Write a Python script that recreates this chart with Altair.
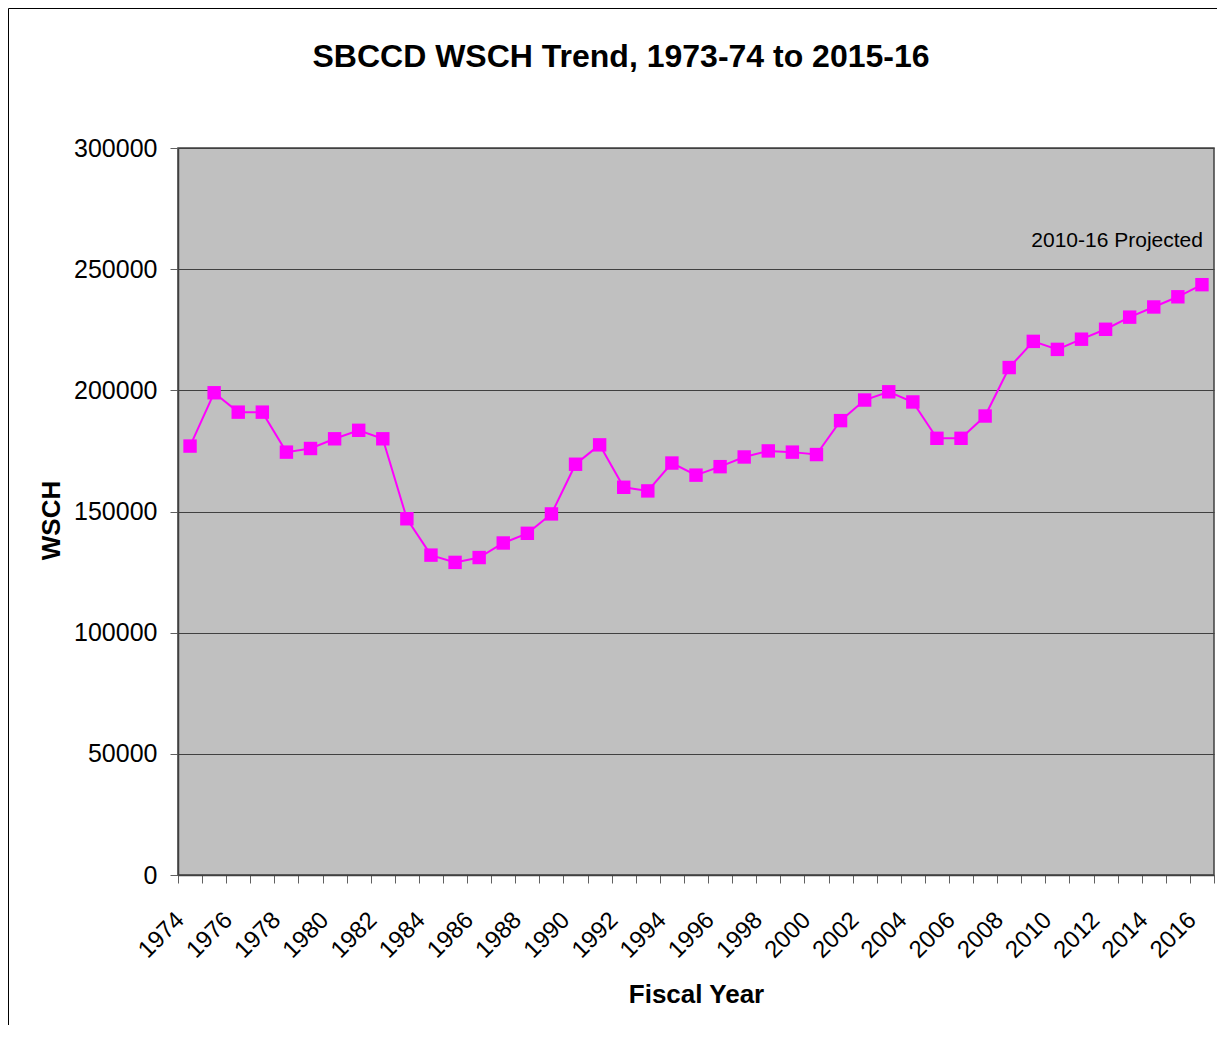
import altair as alt
import pandas as pd

years = [1974, 1975, 1976, 1977, 1978, 1979, 1980, 1981, 1982, 1983,
         1984, 1985, 1986, 1987, 1988, 1989, 1990, 1991, 1992, 1993,
         1994, 1995, 1996, 1997, 1998, 1999, 2000, 2001, 2002, 2003,
         2004, 2005, 2006, 2007, 2008, 2009, 2010, 2011, 2012, 2013,
         2014, 2015, 2016]
wsch = [177000, 199000, 191000, 191000, 174500, 176000, 180000, 183500, 180000, 147000,
        132000, 129000, 131000, 137000, 141000, 149000, 169500, 177500, 160000, 158500,
        170000, 165000, 168500, 172500, 175000, 174500, 173500, 187500, 196000, 199400,
        195200, 180200, 180200, 189400, 209400, 220200, 216900, 221100, 225200, 230200,
        234400, 238600, 243600]
y_ticks = [0, 50000, 100000, 150000, 200000, 250000, 300000]
note_label = ["2010-16 Projected"]
note_year = [2016]
note_value = [259300]

df = pd.DataFrame({"year": years, "wsch": wsch})
note_df = pd.DataFrame({"year": note_year, "wsch": note_value, "label": note_label})
frame_df = pd.DataFrame({"k": [0]})

FONT = "Liberation Sans"
MAG = "#FF00FF"

x_enc = alt.X(
    "year:O",
    title="Fiscal Year",
    bandPosition=0.5,
    scale=alt.Scale(type="band", paddingInner=0, paddingOuter=0, domain=years),
    axis=alt.Axis(
        labelAngle=-45, labelAlign="right", labelBaseline="middle",
        labelPadding=33, labelOffset=-10, labelFontSize=24, labelFont=FONT,
        labelColor="black", labelOverlap=False,
        labelExpr="datum.value % 2 == 0 ? datum.label : ''",
        tickBand="extent", tickSize=8, tickColor="#606060", tickWidth=1,
        domainColor="#404040", domainWidth=1.5, grid=False,
        titleFont=FONT, titleFontSize=26, titleFontWeight="bold", titleColor="black",
        titleX=518, titleY=127, titleBaseline="alphabetic", titleAlign="center",
    ),
)
y_enc = alt.Y(
    "wsch:Q",
    title="WSCH",
    scale=alt.Scale(domain=[0, 300000], nice=False, zero=True),
    axis=alt.Axis(
        values=y_ticks, format="d",
        labelFontSize=25, labelFont=FONT, labelColor="black", labelPadding=13,
        tickSize=8, tickColor="#606060", tickWidth=1,
        domainColor="#404040", domainWidth=1.5,
        grid=True, gridColor="#404040", gridWidth=1,
        titleFont=FONT, titleFontSize=26, titleFontWeight="bold", titleColor="black",
        titleAngle=-90, titleX=-119, titleY=372, titleBaseline="alphabetic",
        titleAlign="center",
    ),
)

frame = alt.Chart(frame_df).mark_rect(
    fillOpacity=0, stroke="black", strokeWidth=1
).encode(
    x=alt.value(-169.5), x2=alt.value(1300),
    y=alt.value(-139.5), y2=alt.value(1200),
)

line = alt.Chart(df).mark_line(color=MAG, strokeWidth=2).encode(x=x_enc, y=y_enc)
points = alt.Chart(df).mark_point(
    shape="square", filled=True, size=180, color=MAG, opacity=1
).encode(x=x_enc, y=y_enc)

note = alt.Chart(note_df).mark_text(
    font=FONT, fontSize=21, color="black", align="right", baseline="alphabetic", dx=1
).encode(
    x=alt.X("year:O", bandPosition=0.5),
    y=alt.Y("wsch:Q"),
    text="label:N",
)

chart = alt.layer(frame, line, points, note).properties(
    width=1036,
    height=727,
    title=alt.Title(
        "SBCCD WSCH Trend, 1973-74 to 2015-16",
        font=FONT, fontSize=32, fontWeight="bold", color="black",
        anchor="middle", frame="group", dx=-75, dy=91, offset=0, baseline="alphabetic",
    ),
    autosize=alt.AutoSizeParams(type="none"),
    padding={"left": 170, "top": 140, "right": 3, "bottom": 150},
).configure_view(
    fill="#C0C0C0", stroke="#404040", strokeWidth=1.5
)

chart.save("out.html", embed_options={"renderer": "svg", "actions": False})
